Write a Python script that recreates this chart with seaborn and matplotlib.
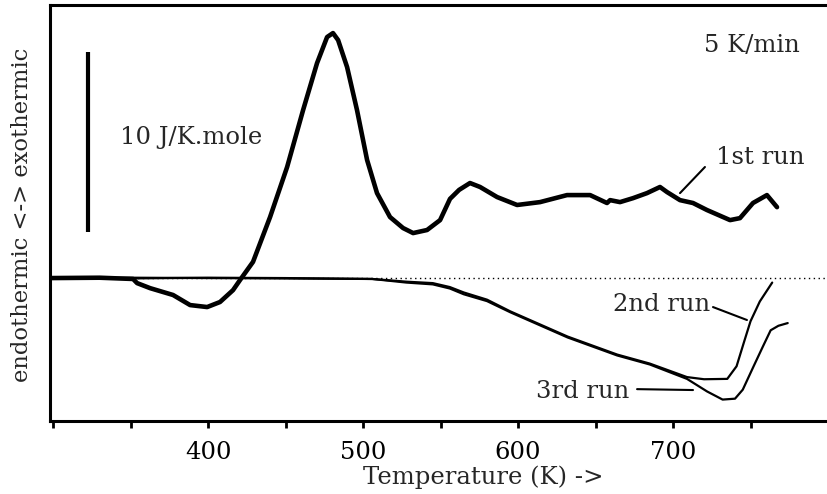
import numpy as np
import pandas as pd
import matplotlib
matplotlib.use("Agg")
import matplotlib.pyplot as plt
from matplotlib.ticker import MultipleLocator
import seaborn as sns

# ---- data ----
run1_T = [298, 330, 351.6, 354.2, 362.6, 377.4, 388.4, 399.4, 407.7, 416.1, 420.6, 429, 440,
          451, 461.3, 470.3, 476.8, 480.6, 483.9, 489.7, 496.1, 502.6, 509, 517.4, 525.8, 532.3,
          541.3, 549.7, 556.1, 562, 569, 575.5, 586.5, 599.4, 614.2, 631.6, 646.5, 657.4, 659.4,
          665.8, 674.2, 683.2, 691.6, 696.1, 704.5, 712.9, 721.9, 736.8, 743.2, 751.6, 760.6, 767.1]
run1_y = [0.0, 0.02, -0.05, -0.28, -0.56, -0.94, -1.5, -1.61, -1.33, -0.67, -0.11, 0.9, 3.39,
          6.17, 9.33, 11.94, 13.39, 13.61, 13.22, 11.72, 9.33, 6.56, 4.72, 3.39, 2.78, 2.5,
          2.67, 3.22, 4.4, 4.9, 5.28, 5.06, 4.5, 4.06, 4.22, 4.61, 4.61, 4.17, 4.33,
          4.22, 4.44, 4.72, 5.06, 4.78, 4.33, 4.17, 3.78, 3.22, 3.33, 4.17, 4.61, 3.94]

run2_T = [298, 350, 400, 450, 506, 528, 545, 556, 565, 580, 595, 632, 664, 685, 709, 720, 735,
          741, 746, 750, 756, 764]
run2_y = [0.0, 0.02, 0.0, -0.02, -0.05, -0.2, -0.28, -0.5, -0.8, -1.2, -1.85, -3.25, -4.25,
          -4.75, -5.5, -5.62, -5.6, -4.9, -3.5, -2.4, -1.3, -0.25]

run3_T = [298, 350, 400, 450, 506, 528, 545, 556, 565, 580, 595, 632, 664, 685, 709, 722, 732,
          740, 745, 752, 758, 763, 768, 774]
run3_y = [0.0, -0.02, 0.02, 0.0, -0.05, -0.25, -0.35, -0.58, -0.9, -1.28, -1.9, -3.3, -4.3,
          -4.8, -5.6, -6.3, -6.75, -6.7, -6.2, -4.9, -3.8, -2.9, -2.65, -2.5]

xticks = [400, 500, 600, 700]
xlabel = "Temperature (K) ->"
ylabel = "endothermic <-> exothermic"

sns.set_theme(style="ticks")
plt.rcParams["font.family"] = ["DejaVu Serif"]
FS = 17.5

fig = plt.figure(figsize=(8.28, 4.94), dpi=100)
ax = fig.add_axes([50 / 828, 1 - 421 / 494, 1 - 50 / 828, (421 - 5) / 494])

# dotted zero baseline
ax.plot([298, 800], [0, 0], color="black", lw=1.0, ls=(0, (1, 2.5)), zorder=1)

df1 = pd.DataFrame({"T": run1_T, "y": run1_y})
df2 = pd.DataFrame({"T": run2_T, "y": run2_y})
df3 = pd.DataFrame({"T": run3_T, "y": run3_y})
sns.lineplot(data=df2, x="T", y="y", ax=ax, color="black", lw=1.6, sort=False, estimator=None)
sns.lineplot(data=df3, x="T", y="y", ax=ax, color="black", lw=1.6, sort=False, estimator=None)
sns.lineplot(data=df1, x="T", y="y", ax=ax, color="black", lw=3.3, sort=False, estimator=None)

# scale bar
ax.plot([322.6, 322.6], [2.55, 12.55], color="black", lw=3.0, solid_capstyle="butt")
ax.text(343, 7.8, "10 J/K.mole", fontsize=FS, ha="left", va="center")
ax.text(782, 12.9, "5 K/min", fontsize=FS, ha="right", va="center")

# run labels
ax.text(728, 6.7, "1st run", fontsize=FS, ha="left", va="center")
ax.plot([704.5, 720.6], [4.72, 6.17], color="black", lw=1.5)
ax.text(724, -1.45, "2nd run", fontsize=FS, ha="right", va="center")
ax.plot([725.8, 747.7], [-1.61, -2.33], color="black", lw=1.5)
ax.text(672, -6.3, "3rd run", fontsize=FS, ha="right", va="center")
ax.plot([676.8, 712.9], [-6.17, -6.22], color="black", lw=1.5)

ax.set_xlim(298, 800)
ax.set_ylim(-7.94, 15.17)
ax.set_xticks(xticks)
ax.xaxis.set_minor_locator(MultipleLocator(50))
ax.set_yticks([])
ax.tick_params(axis="x", which="both", direction="out", length=5, width=2.0, pad=9.5,
               labelsize=FS, colors="black")
for s in ["left", "bottom", "top"]:
    ax.spines[s].set_linewidth(2.2)
    ax.spines[s].set_color("black")
ax.spines["right"].set_visible(False)

ax.set_xlabel(xlabel, fontsize=FS)
ax.set_ylabel(ylabel, fontsize=16.3)
ax.xaxis.set_label_coords(0.557, -0.108)
ax.yaxis.set_label_coords(-0.022, 0.495)

fig.savefig("out.png", dpi=100)
